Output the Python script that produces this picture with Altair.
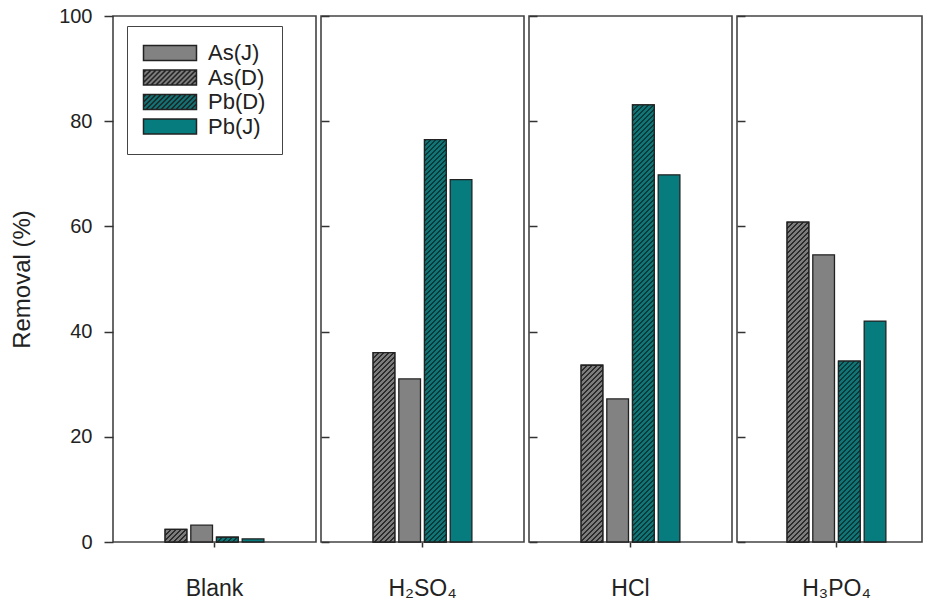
import altair as alt
import pandas as pd

# ---------------- data ----------------
categories = ["Blank", "H₂SO₄", "HCl", "H₃PO₄"]
series_order = ["As(D)", "As(J)", "Pb(D)", "Pb(J)"]
legend_order = ["As(J)", "As(D)", "Pb(D)", "Pb(J)"]
as_d = [2.4, 36.0, 33.6, 60.8]
as_j = [3.2, 31.0, 27.2, 54.6]
pb_d = [0.9, 76.5, 83.1, 34.4]
pb_j = [0.6, 68.9, 69.8, 42.0]
y_ticks = [0, 20, 40, 60, 80, 100]

fill_colors = {"As(J)": "#828282", "As(D)": "#7c7c7c", "Pb(D)": "#0f7577", "Pb(J)": "#067c7e"}
stripe_colors = {"As(D)": "#2b2b2b", "Pb(D)": "#0b3a3b"}
hatched = ["As(D)", "Pb(D)"]

rows = []
for i, c in enumerate(categories):
    for s, vals in zip(series_order, [as_d, as_j, pb_d, pb_j]):
        rows.append({"category": c, "series": s, "value": vals[i]})
df = pd.DataFrame(rows)

# ---------------- style / layout ----------------
FONT = "Liberation Sans"
PLOT_H = 526
PANEL_W = [203, 203, 203, 185]
ALIGN = [0.5, 0.5, 0.5, 0.585]
BAND = 102.8
OFF_PI = 0.156
OFF_PO = 0.078
BAR_W = BAND / (4 - OFF_PI + 2 * OFF_PO) * (1 - OFF_PI)
PERIOD = 5.0  # hatch period along x+y (px)
DARK_FRAC = 0.42


def hatch_gradient(value, base, dark):
    W = BAR_W
    H = max(value / 100.0 * PLOT_H, 0.5)
    a = W * (W + H) / (W * W + H * H)
    dt = PERIOD / (W + H)
    stops = []
    t = 0.0
    while t < 1.0:
        t1 = min(t + DARK_FRAC * dt, 1.0)
        t2 = min(t + dt, 1.0)
        stops += [
            {"offset": round(t, 5), "color": dark},
            {"offset": round(t1, 5), "color": dark},
            {"offset": round(t1, 5), "color": base},
            {"offset": round(t2, 5), "color": base},
        ]
        t += dt
    return {"gradient": "linear", "x1": 0, "y1": 0, "x2": a, "y2": a * H / W, "stops": stops}


# legend symbol: 53 x 15 px rectangle drawn with a 15px "unit" symbol
SYM_W = 53.0
SYM_H = 15.0
SYM_SIDE = SYM_H
hw = SYM_W / SYM_SIDE  # half width in symbol units
hh = 1.0


def rect_path():
    return f"M{-hw:.3f},{-hh:.3f}H{hw:.3f}V{hh:.3f}H{-hw:.3f}Z"


def hatch_path(step):
    parts = [rect_path()]
    c = -hw - hh + step / 2
    while c < hw + hh:
        x0 = max(-hw, c - hh)
        x1 = min(hw, c + hh)
        parts.append(f"M{x0:.3f},{c - x0:.3f}L{x1:.3f},{c - x1:.3f}")
        c += step
    return "".join(parts)


shape_range = [hatch_path(2 * PERIOD / SYM_SIDE) if s in hatched else rect_path() for s in legend_order]

color_scale = alt.Scale(domain=legend_order, range=[fill_colors[s] for s in legend_order])
shape_scale = alt.Scale(domain=legend_order, range=shape_range)

legend = alt.Legend(
    orient="none", legendX=14, legendY=10, title=None,
    labelFont=FONT, labelFontSize=22, labelColor="#222",
    symbolSize=SYM_SIDE * SYM_SIDE,
    symbolOpacity=1, symbolOffset=16, labelOffset=27, rowPadding=2.5, padding=16,
    strokeColor="#444", fillColor="white",
)


def panel(i):
    cat = categories[i]
    po = (PANEL_W[i] / BAND - 1) / 2
    base = alt.Chart(df).transform_filter(alt.datum.category == cat)
    x = alt.X(
        "category:N",
        scale=alt.Scale(paddingInner=0, paddingOuter=po, align=ALIGN[i]),
        axis=alt.Axis(title=None, labelFont=FONT, labelFontSize=23, labelColor="#222",
                      labelPadding=30, tickSize=5, tickWidth=1.5, tickColor="#333",
                      domain=False, labelAngle=0),
    )
    xo = alt.XOffset("series:N", scale=alt.Scale(domain=series_order, paddingInner=OFF_PI, paddingOuter=OFF_PO))
    if i == 0:
        yaxis = alt.Axis(values=y_ticks, title="Removal (%)", titleFont=FONT, titleFontSize=24,
                         titleFontWeight="normal", titleColor="#222", titlePadding=24,
                         labelFont=FONT, labelFontSize=20, labelColor="#222", labelPadding=12,
                         tickSize=9, tickWidth=1.5, tickColor="#333", domain=False, grid=False)
    else:
        yaxis = alt.Axis(values=y_ticks, title=None, labels=False, tickSize=8, offset=-8,
                         tickWidth=1.5, tickColor="#333", domain=False, grid=False)
    y = alt.Y("value:Q", scale=alt.Scale(domain=[0, 100], nice=False), axis=yaxis)
    bars = base.mark_bar(stroke="#222", strokeWidth=1.3).encode(
        x=x, xOffset=xo, y=y,
        color=alt.Color("series:N", scale=color_scale, legend=legend),
    )
    layers = [bars]
    for s in hatched:
        v = float(df[(df.category == cat) & (df.series == s)].value.iloc[0])
        layers.append(
            base.transform_filter(alt.datum.series == s)
            .mark_bar(fill=hatch_gradient(v, fill_colors[s], stripe_colors[s]), stroke="#222", strokeWidth=1.3)
            .encode(x=x, xOffset=xo, y=y)
        )
    if i == 0:
        layers.append(
            base.mark_point(filled=True, size=0, stroke="#222", strokeWidth=1.3, opacity=1).encode(
                x=x, xOffset=xo, y=y,
                color=alt.Color("series:N", scale=color_scale, legend=legend),
                shape=alt.Shape("series:N", scale=shape_scale, legend=legend),
            )
        )
    return alt.layer(*layers).properties(width=PANEL_W[i], height=PLOT_H)


chart = (
    alt.hconcat(*[panel(i) for i in range(4)], spacing=2)
    .resolve_scale(x="independent", xOffset="independent", color="shared", shape="shared")
    .properties(padding={"left": 1, "top": -3, "right": 0, "bottom": 0}, background="white")
    .configure_view(stroke="#444", strokeWidth=1.6)
)

chart.save("out.html", embed_options={"renderer": "svg", "actions": False})
